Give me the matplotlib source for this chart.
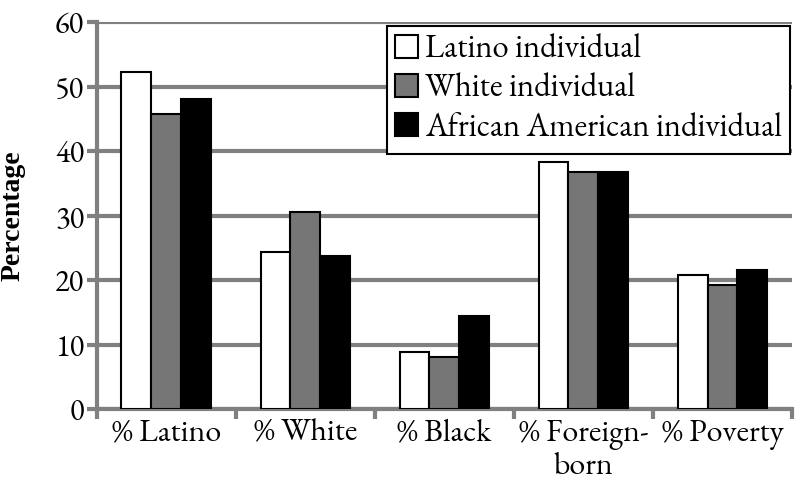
import numpy as np
import matplotlib
matplotlib.use("Agg")
import matplotlib.pyplot as plt
from matplotlib import font_manager as fm

categories = ["% Latino", "% White", "% Black", "% Foreign-\nborn", "% Poverty"]
series_names = ["Latino individual", "White individual", "African American individual"]
latino_vals = [52.2, 24.3, 8.8, 38.3, 20.8]
white_vals = [45.7, 30.5, 8.1, 36.7, 19.3]
black_vals = [48.1, 23.8, 14.5, 36.8, 21.6]
colors = ["#ffffff", "#767676", "#000000"]

# pick a Garamond-like serif if one is installed
serif = "Liberation Serif"
for name in ["EB Garamond", "Cormorant Garamond", "Sorts Mill Goudy", "Crimson Text", "Libre Caslon Text"]:
    try:
        fm.findfont(name, fallback_to_default=False)
        serif = name
        break
    except Exception:
        pass
plt.rcParams['font.family'] = [serif, 'Liberation Serif', 'DejaVu Serif']

fig = plt.figure(figsize=(8, 4.91), dpi=100)
ax = fig.add_axes([0.121, 0.167, 0.869, 0.788])

x = np.arange(len(categories))
w = 0.215
for i, (vals, name) in enumerate(zip([latino_vals, white_vals, black_vals], series_names)):
    ax.bar(x + (i - 1) * w, vals, w, color=colors[i], edgecolor="black",
           linewidth=1.5, label=name, zorder=3)

ax.set_xlim(-0.5, len(categories) - 0.5)
ax.set_ylim(0, 60)
ax.set_yticks(range(0, 61, 10))
ax.yaxis.grid(True, color="#808080", linewidth=3, zorder=0)
ax.set_axisbelow(True)

# category ticks sit on the boundaries
ax.set_xticks(np.arange(-0.5, len(categories), 1.0))
ax.set_xticklabels([])
ax.set_xticks(x, minor=True)
ax.set_xticklabels(categories, minor=True, fontsize=23, linespacing=1.1)
ax.tick_params(axis="x", which="minor", length=0, pad=7)
ax.tick_params(axis="x", which="major", length=7, width=3, color="#808080")
ax.tick_params(axis="y", length=7, width=3, color="#808080", labelsize=22, pad=2)

for s in ["top", "right"]:
    ax.spines[s].set_visible(False)
for s in ["left", "bottom"]:
    ax.spines[s].set_color("#808080")
    ax.spines[s].set_linewidth(3)

ax.set_ylabel("Percentage", fontsize=20, fontweight="bold",
              family=["Liberation Serif", "DejaVu Serif"])
ax.yaxis.set_label_coords(-0.102, 0.5)

leg = ax.legend(loc="upper right", bbox_to_anchor=(0.997, 0.99), fontsize=23.5,
                frameon=True, fancybox=False, handlelength=0.7, handleheight=0.7,
                handletextpad=0.2, borderpad=0.25, labelspacing=0.15,
                borderaxespad=0)
leg.get_frame().set_edgecolor("black")
leg.get_frame().set_linewidth(1.5)
leg.get_frame().set_alpha(1)

fig.savefig("out.png", dpi=100)
